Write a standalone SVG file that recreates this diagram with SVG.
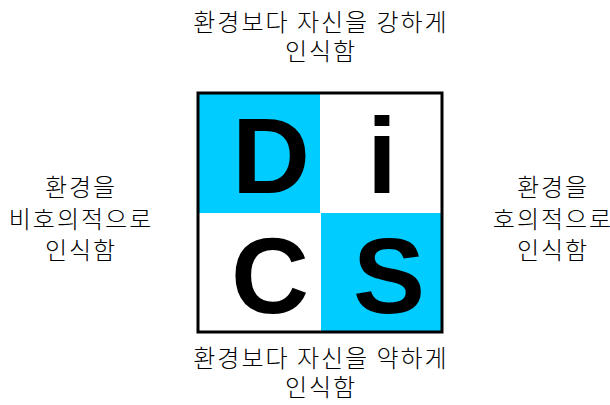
<svg xmlns="http://www.w3.org/2000/svg" width="610" height="405" viewBox="0 0 610 405">
<style>
.lbl{font-family:"Noto Sans CJK KR","Noto Sans",sans-serif;font-size:24px;font-weight:300;fill:#000;text-anchor:middle;letter-spacing:2px}
.big{font-family:"Liberation Sans",Arial,sans-serif;font-weight:bold;font-size:108px;fill:#000;text-anchor:middle}
.cy{fill:#00CCFF}
</style>
<rect width="610" height="405" fill="#fff"/>
<g id="grid">
<rect x="198" y="93" width="244" height="239" fill="#fff"/>
<rect class="cy" x="198" y="93" width="122" height="120"/>
<rect class="cy" x="321" y="213" width="121" height="119"/>
<rect x="198" y="93" width="244" height="239" fill="none" stroke="#000" stroke-width="3"/>
</g>
<g id="D"><text class="big" x="271" y="193">D</text></g>
<g id="i"><text class="big" x="382" y="193">i</text></g>
<g id="C"><text class="big" x="270" y="313">C</text></g>
<g id="S"><text class="big" x="389" y="313">S</text></g>
<g id="top"><text class="lbl" x="321" y="31">환경보다 자신을 강하게</text><text class="lbl" x="321" y="60">인식함</text></g>
<g id="left"><text class="lbl" x="81" y="196">환경을</text><text class="lbl" x="81" y="228">비호의적으로</text><text class="lbl" x="81" y="259">인식함</text></g>
<g id="right"><text class="lbl" x="553" y="196">환경을</text><text class="lbl" x="553" y="228">호의적으로</text><text class="lbl" x="553" y="259">인식함</text></g>
<g id="bottom"><text class="lbl" x="321" y="367">환경보다 자신을 약하게</text><text class="lbl" x="321" y="396">인식함</text></g>
</svg>
